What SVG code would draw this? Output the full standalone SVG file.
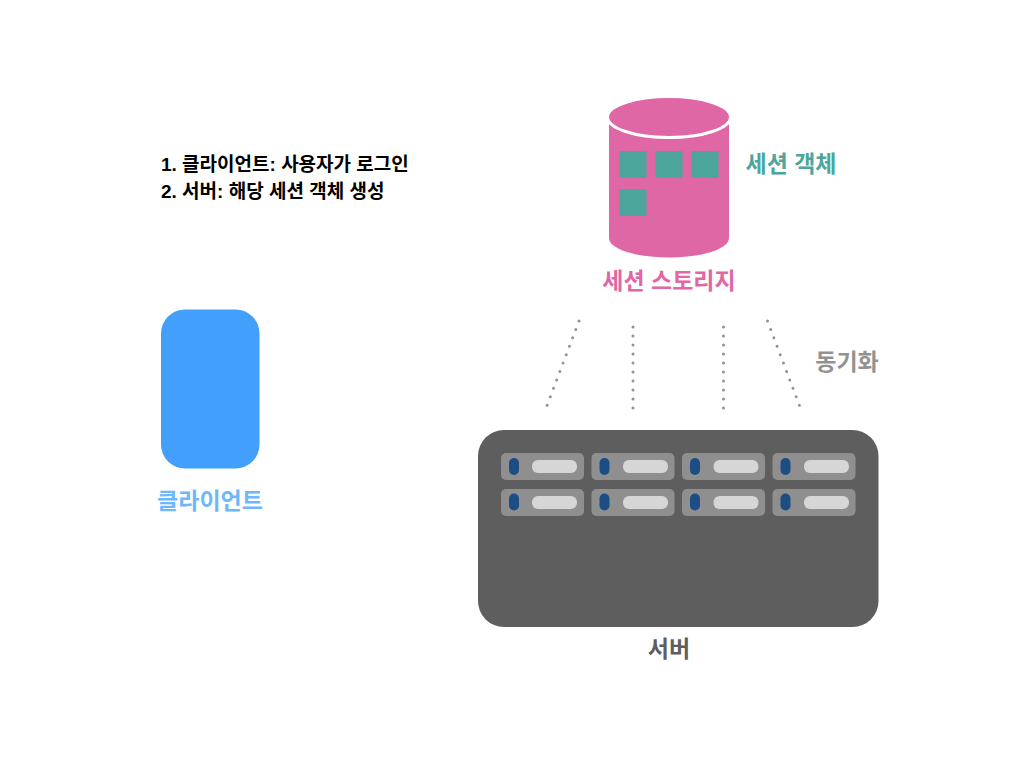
<svg xmlns="http://www.w3.org/2000/svg" width="1024" height="768" viewBox="0 0 1024 768">
<style>
text{font-family:"Liberation Sans","Noto Sans CJK KR",sans-serif;font-weight:700}
.t{font-size:19px;fill:#000}
.l{font-size:23px}
.sq{fill:#4ca69b}
.u{fill:#8f8f8f}
.b{fill:#1c4e84}
.w{fill:#d6d6d6}
.d{fill:none;stroke:#929292;stroke-width:3;stroke-linecap:round;stroke-dasharray:0 9}
</style>
<rect width="1024" height="768" fill="#fff"/>
<g id="steps">
<text class="t" x="161" y="171">1. 클라이언트: 사용자가 로그인</text>
<text class="t" x="161" y="198">2. 서버: 해당 세션 객체 생성</text>
</g>
<g id="storage">
<path d="M609 117V238C609 249 636 257.500 669 257.500S729 249 729 238V117Z" fill="#df67a5"/>
<ellipse cx="669" cy="117" rx="61.500" ry="20.500" fill="#df67a5" stroke="#fff" stroke-width="3"/>
<rect class="sq" x="619.500" y="151" width="27" height="27"/>
<rect class="sq" x="655.500" y="151" width="27" height="27"/>
<rect class="sq" x="691.500" y="151" width="27" height="27"/>
<rect class="sq" x="619.500" y="189" width="27" height="27"/>
<text class="l" x="669" y="289" text-anchor="middle" fill="#df67a5">세션 스토리지</text>
</g>
<g id="session-object">
<text class="l" x="791" y="172" text-anchor="middle" fill="#4ca69b">세션 객체</text>
</g>
<g id="client">
<rect x="161" y="309.500" width="98.500" height="159" rx="24" fill="#439ffc"/>
<text class="l" x="210" y="509" text-anchor="middle" fill="#6db8fb">클라이언트</text>
</g>
<g id="server">
<rect x="478" y="430" width="400.500" height="197" rx="26" fill="#5e5e5e"/>
<g id="r1">
<rect class="u" x="501" y="453" width="83" height="27" rx="5"/><rect class="b" x="509" y="458" width="10" height="17" rx="5"/><rect class="w" x="532" y="460" width="45" height="13" rx="6"/>
<rect class="u" x="501" y="489" width="83" height="27" rx="5"/><rect class="b" x="509" y="493.500" width="10" height="17" rx="5"/><rect class="w" x="532" y="496" width="45" height="13" rx="6"/>
</g>
<g id="r2">
<rect class="u" x="591.500" y="453" width="83" height="27" rx="5"/><rect class="b" x="599.500" y="458" width="10" height="17" rx="5"/><rect class="w" x="623" y="460" width="45" height="13" rx="6"/>
<rect class="u" x="591.500" y="489" width="83" height="27" rx="5"/><rect class="b" x="599.500" y="493.500" width="10" height="17" rx="5"/><rect class="w" x="623" y="496" width="45" height="13" rx="6"/>
</g>
<g id="r3">
<rect class="u" x="682" y="453" width="83" height="27" rx="5"/><rect class="b" x="690" y="458" width="10" height="17" rx="5"/><rect class="w" x="713.500" y="460" width="45" height="13" rx="6"/>
<rect class="u" x="682" y="489" width="83" height="27" rx="5"/><rect class="b" x="690" y="493.500" width="10" height="17" rx="5"/><rect class="w" x="713.500" y="496" width="45" height="13" rx="6"/>
</g>
<g id="r4">
<rect class="u" x="772.500" y="453" width="83" height="27" rx="5"/><rect class="b" x="780.500" y="458" width="10" height="17" rx="5"/><rect class="w" x="804" y="460" width="45" height="13" rx="6"/>
<rect class="u" x="772.500" y="489" width="83" height="27" rx="5"/><rect class="b" x="780.500" y="493.500" width="10" height="17" rx="5"/><rect class="w" x="804" y="496" width="45" height="13" rx="6"/>
</g>
<text class="l" x="669" y="657" text-anchor="middle" fill="#5e5e5e">서버</text>
</g>
<g id="connectors">
<path class="d" d="M579 321L547 405.500"/>
<path class="d" d="M633 327V408.500"/>
<path class="d" d="M723.500 327V408.500"/>
<path class="d" d="M767.500 321L799.500 405.500"/>
</g>
<g id="sync">
<text class="l" x="847" y="370" text-anchor="middle" fill="#929292">동기화</text>
</g>
</svg>
